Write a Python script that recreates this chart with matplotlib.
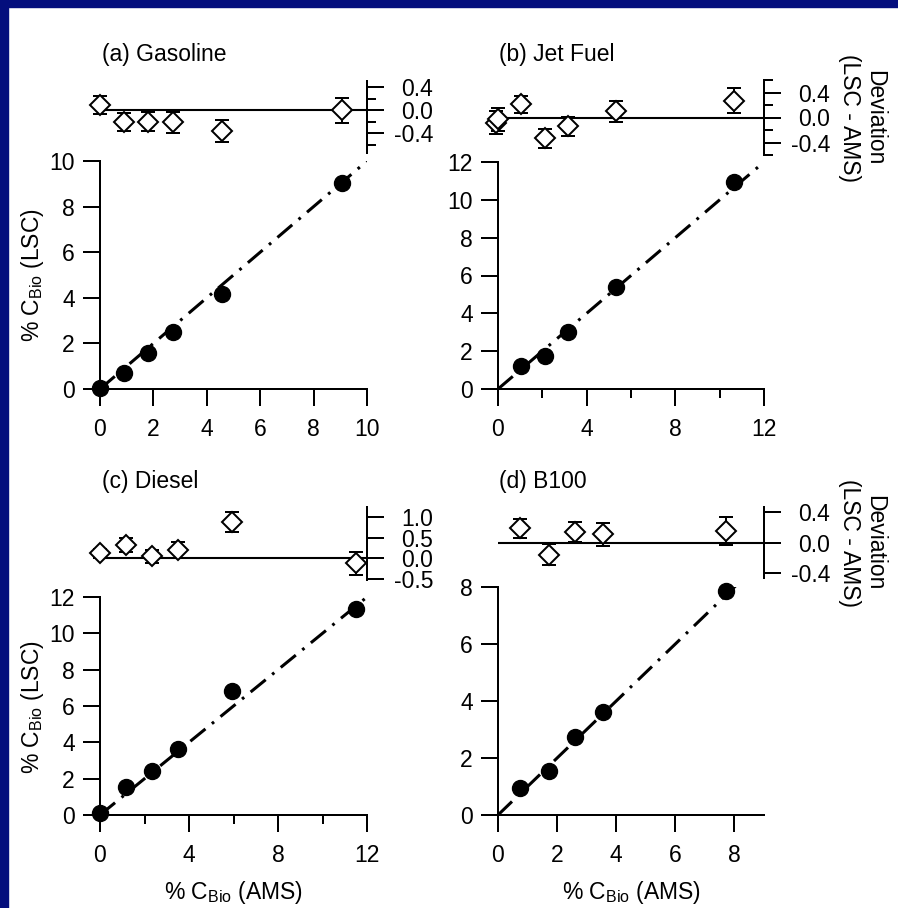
import numpy as np
import matplotlib
matplotlib.use('Agg')
import matplotlib.pyplot as plt
from matplotlib.patches import Rectangle

plt.rcParams['font.family'] = ['Liberation Sans', 'DejaVu Sans']
plt.rcParams['mathtext.fontset'] = 'custom'
plt.rcParams['mathtext.rm'] = 'Liberation Sans'
plt.rcParams['mathtext.it'] = 'Liberation Sans:italic'
plt.rcParams['lines.scale_dashes'] = False
plt.rcParams['axes.unicode_minus'] = False

# (a) Gasoline
ams_a = [0.0, 0.91, 1.79, 2.72, 4.56, 9.06]
lsc_a = [0.06, 0.69, 1.56, 2.49, 4.15, 9.02]
devx_a = [0.0, 0.91, 1.79, 2.72, 4.56, 9.06]
dev_a = [0.09, -0.20, -0.20, -0.21, -0.36, 0.0]
err_a = [0.15, 0.16, 0.165, 0.18, 0.19, 0.22]

# (b) Jet Fuel
ams_b = [1.05, 2.14, 3.16, 5.34, 10.63]
lsc_b = [1.22, 1.75, 3.03, 5.41, 10.92]
devx_b = [-0.08, 0.0, 1.05, 2.14, 3.16, 5.34, 10.63]
dev_b = [-0.08, -0.03, 0.21, -0.33, -0.14, 0.10, 0.27]
err_b = [0.18, 0.18, 0.13, 0.15, 0.15, 0.17, 0.20]

# (c) Diesel
ams_c = [0.0, 1.17, 2.33, 3.50, 5.93, 11.52]
lsc_c = [0.09, 1.52, 2.42, 3.63, 6.83, 11.36]
devx_c = [0.0, 1.17, 2.33, 3.50, 5.93, 11.52]
dev_c = [0.12, 0.32, 0.05, 0.20, 0.88, -0.12]
err_c = [0.10, 0.16, 0.16, 0.20, 0.24, 0.27]

# (d) B100
ams_d = [0.73, 1.72, 2.62, 3.54, 7.73]
lsc_d = [0.94, 1.55, 2.75, 3.63, 7.85]
devx_d = [0.73, 1.72, 2.62, 3.54, 7.73]
dev_d = [0.19, -0.16, 0.14, 0.11, 0.15]
err_d = [0.125, 0.14, 0.13, 0.15, 0.185]

W, H = 898, 908
NAVY = '#040e7d'
FS = 16.5
LW = 1.44

fig = plt.figure(figsize=(W / 100, H / 100), dpi=100)
fig.add_artist(Rectangle((0, 0), 8 / W, 1, transform=fig.transFigure, color=NAVY, zorder=0))
fig.add_artist(Rectangle((0, 1 - 7 / H), 1, 7 / H, transform=fig.transFigure, color=NAVY, zorder=0))


def box(l, t, r, b):
    return [l / W, 1 - b / H, (r - l) / W, (b - t) / H]


def px(x, y):
    return x / W, 1 - y / H


def panel(mbox, dbox, xmax, ymax, xmaj, xmin_, ymaj, dlim, dmaj, dmin,
          ams, lsc, devx, dev, err):
    ax = fig.add_axes(box(*mbox))
    ax.plot([0, xmax], [0, xmax], color='k', lw=2.2, dashes=(14, 6, 2, 6), zorder=1)
    ax.plot(ams, lsc, 'o', color='k', ms=11.5, clip_on=False, zorder=3)
    ax.set_xlim(0, xmax)
    ax.set_ylim(0, ymax)
    for s in ['top', 'right']:
        ax.spines[s].set_visible(False)
    for s in ['left', 'bottom']:
        ax.spines[s].set_linewidth(LW)
    ax.set_xticks(xmaj)
    ax.set_xticks(xmin_, minor=True)
    ax.set_yticks(ymaj)
    ax.tick_params(which='major', direction='out', length=12.2, width=LW, labelsize=FS)
    ax.tick_params(which='minor', direction='out', length=6.5, width=LW)
    ax.tick_params(axis='x', pad=8.5)
    ax.tick_params(axis='y', pad=6)
    ax.patch.set_alpha(0)

    dx = fig.add_axes(box(*dbox))
    dx.set_xlim(0, xmax)
    dx.set_ylim(*dlim)
    for s in ['top', 'left', 'bottom']:
        dx.spines[s].set_visible(False)
    dx.spines['right'].set_linewidth(LW)
    dx.set_xticks([])
    dx.yaxis.tick_right()
    dx.set_yticks(dmaj)
    dx.set_yticks(dmin, minor=True)
    dx.tick_params(axis='y', which='major', direction='out', length=12.2, width=LW,
                   labelsize=FS, pad=35.5)
    dx.tick_params(axis='y', which='minor', direction='out', length=6.5, width=LW)
    for lab in dx.get_yticklabels():
        lab.set_horizontalalignment('right')
    dx.axhline(0, color='k', lw=1.5, zorder=1)
    dx.errorbar(devx, dev, yerr=err, fmt='none', ecolor='k', elinewidth=LW,
                capsize=4.8, capthick=LW, clip_on=False, zorder=2)
    dx.plot(devx, dev, 'D', ms=10, mfc='white', mec='k', mew=LW, clip_on=False, zorder=3)
    dx.patch.set_alpha(0)
    return ax, dx


panel((100, 161, 367, 389), (100, 81.5, 367, 153.5), 10, 10,
      [0, 2, 4, 6, 8, 10], [], [0, 2, 4, 6, 8, 10],
      (-0.75, 0.5), [-0.4, 0.0, 0.4], [-0.6, -0.2, 0.2],
      ams_a, lsc_a, devx_a, dev_a, err_a)
panel((498, 162, 764, 389), (498, 80, 764, 155), 12, 12,
      [0, 4, 8, 12], [2, 6, 10], [0, 2, 4, 6, 8, 10, 12],
      (-0.6, 0.6), [-0.4, 0.0, 0.4], [-0.6, -0.2, 0.2, 0.6],
      ams_b, lsc_b, devx_b, dev_b, err_b)
panel((100, 597, 367, 815), (100, 506.5, 367, 580), 12, 12,
      [0, 4, 8, 12], [2, 6, 10], [0, 2, 4, 6, 8, 10, 12],
      (-0.52, 1.25), [-0.5, 0.0, 0.5, 1.0], [],
      ams_c, lsc_c, devx_c, dev_c, err_c)
panel((498, 587, 764, 815), (498, 507, 764, 578), 9, 8,
      [0, 2, 4, 6, 8], [], [0, 2, 4, 6, 8],
      (-0.47, 0.47), [-0.4, 0.0, 0.4], [],
      ams_d, lsc_d, devx_d, dev_d, err_d)

# titles
fig.text(*px(102, 54.5), '(a) Gasoline', ha='left', va='center', fontsize=FS)
fig.text(*px(499, 54.5), '(b) Jet Fuel', ha='left', va='center', fontsize=FS)
fig.text(*px(102, 481.7), '(c) Diesel', ha='left', va='center', fontsize=FS)
fig.text(*px(499, 481.7), '(d) B100', ha='left', va='center', fontsize=FS)

# axis labels
ylab = r'% C$_{\mathrm{Bio}}$ (LSC)'
xlab = r'% C$_{\mathrm{Bio}}$ (AMS)'
fig.text(*px(33, 275), ylab, rotation=90, ha='center', va='center', fontsize=FS)
fig.text(*px(33, 707), ylab, rotation=90, ha='center', va='center', fontsize=FS)
fig.text(*px(233.5, 899), xlab, ha='center', va='baseline', fontsize=FS)
fig.text(*px(631, 899), xlab, ha='center', va='baseline', fontsize=FS)
fig.text(*px(862, 118), 'Deviation\n(LSC - AMS)', rotation=-90, ha='center', va='center',
         fontsize=FS, linespacing=1.1)
fig.text(*px(862, 543), 'Deviation\n(LSC - AMS)', rotation=-90, ha='center', va='center',
         fontsize=FS, linespacing=1.1)

fig.savefig('out.png', dpi=100)
